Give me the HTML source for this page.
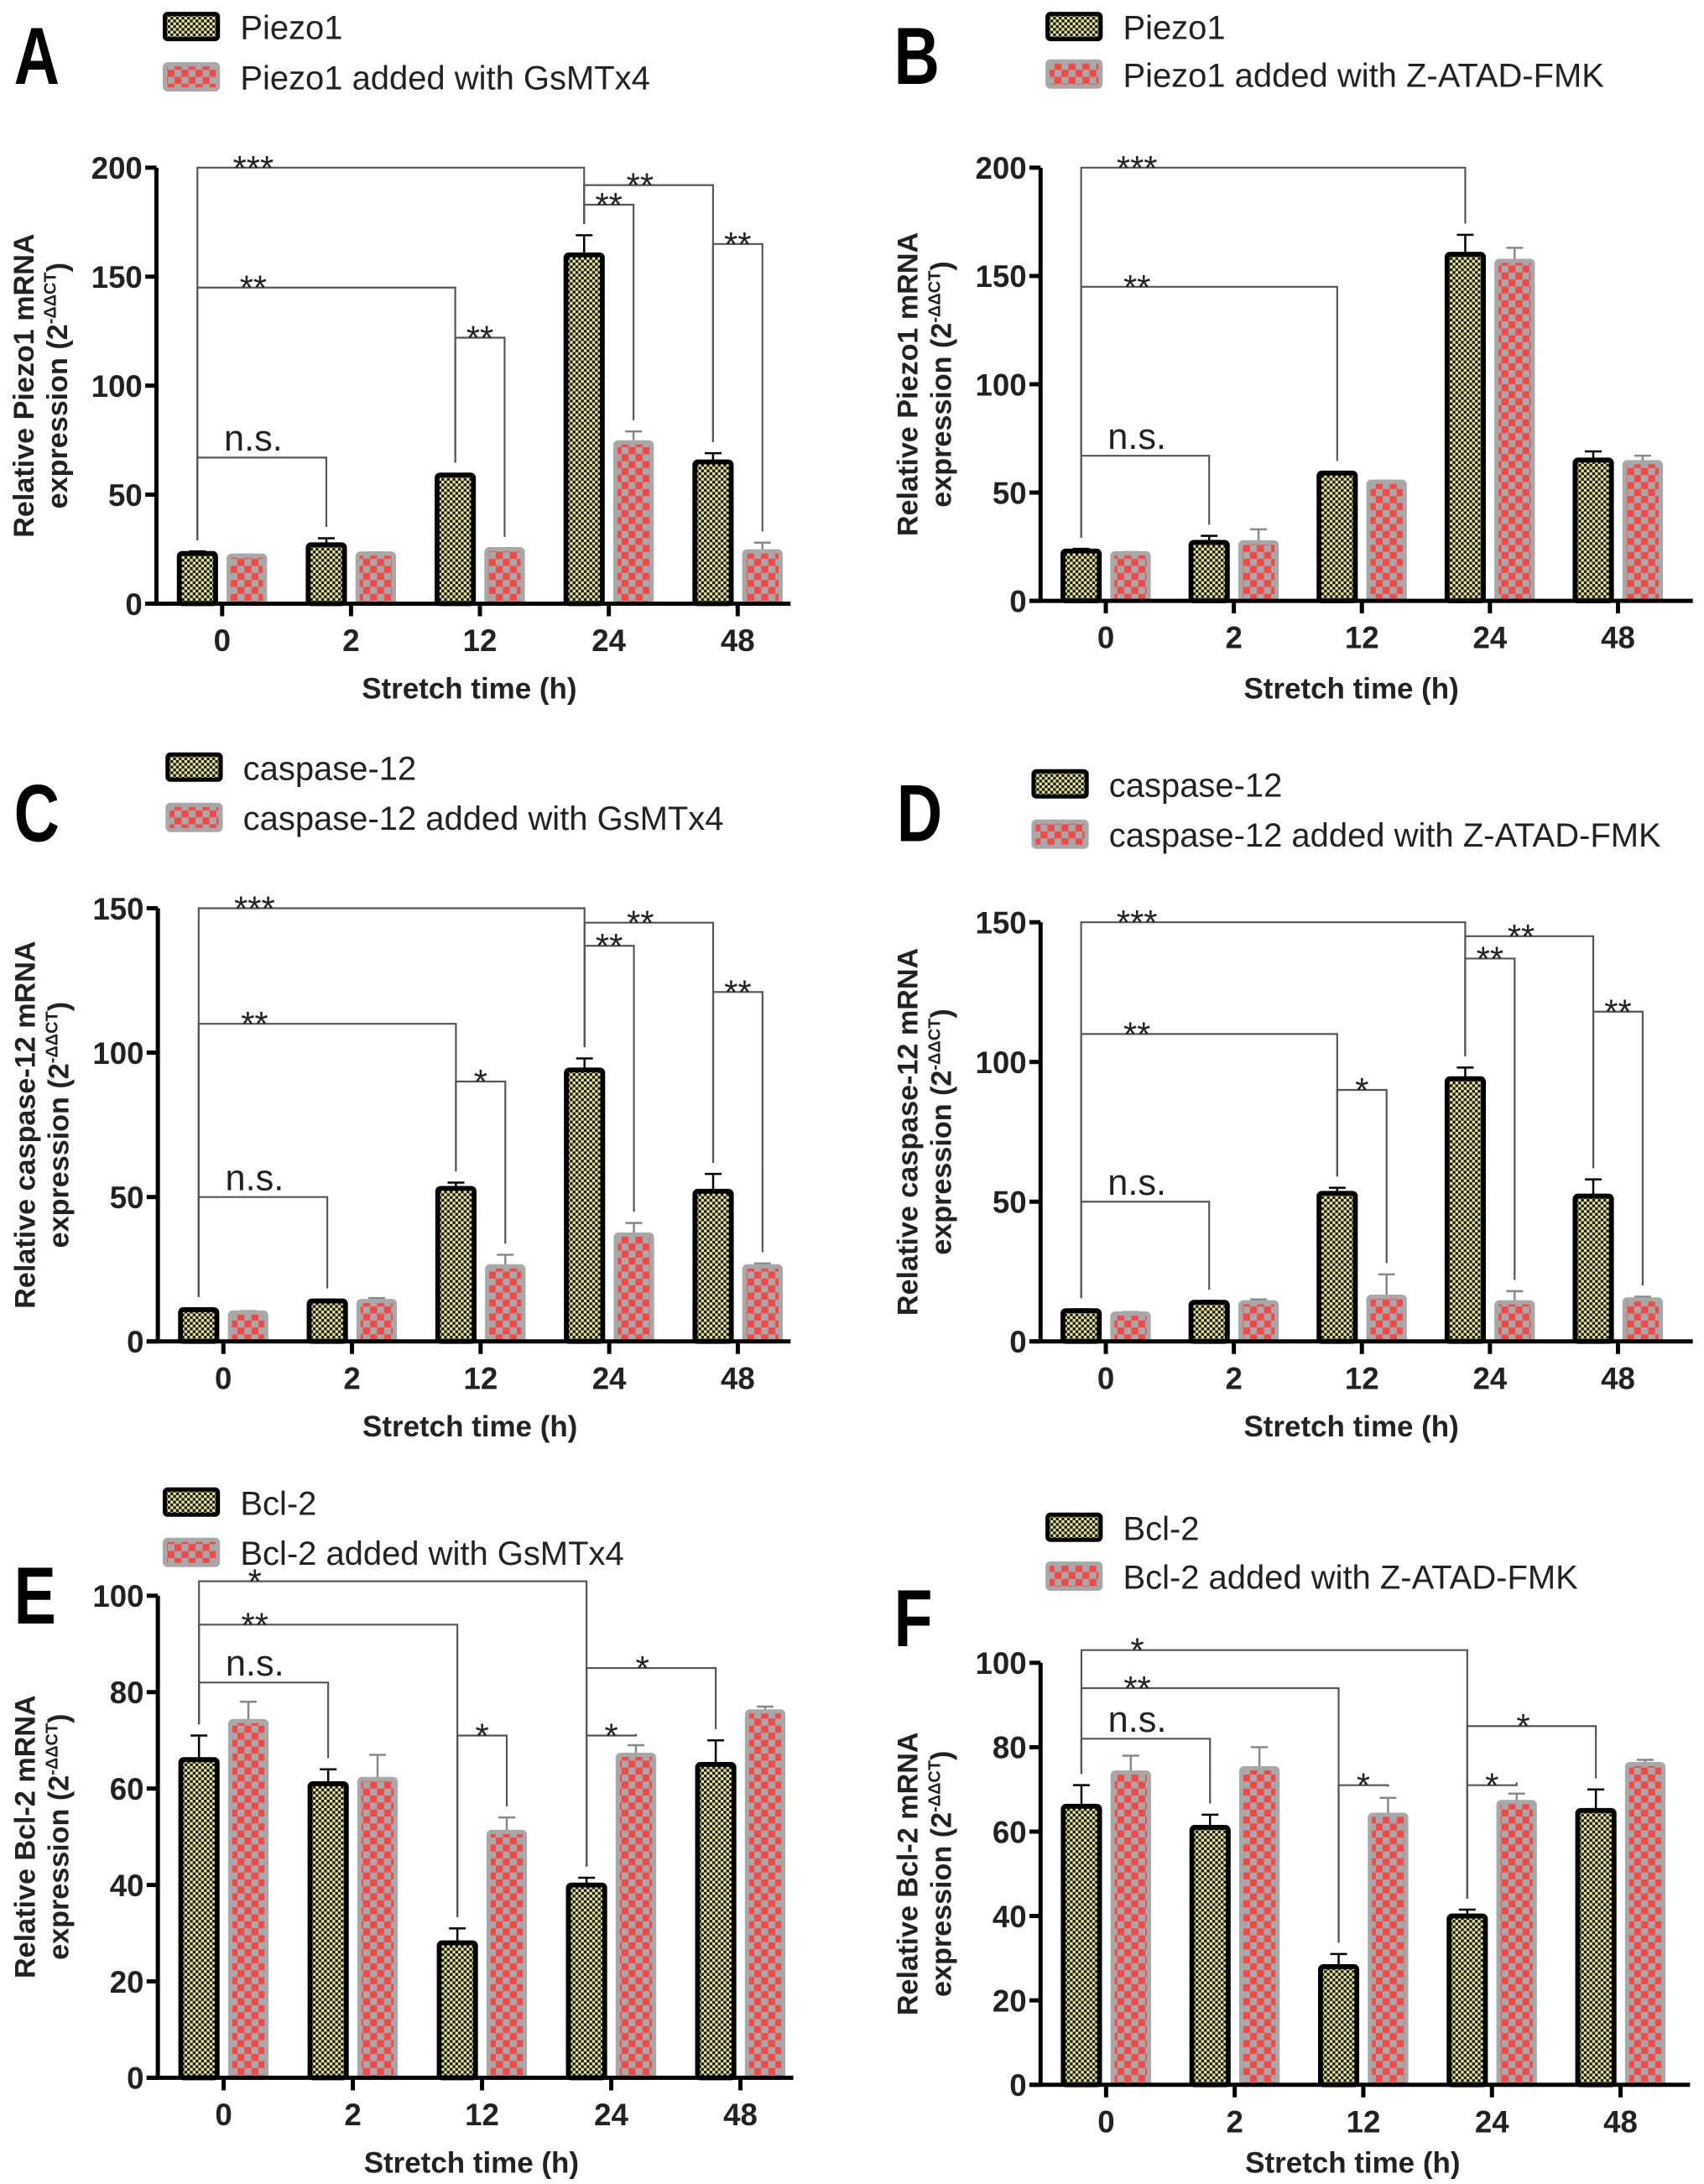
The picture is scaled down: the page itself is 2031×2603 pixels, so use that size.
<!DOCTYPE html>
<html><head><meta charset="utf-8"><style>
html,body{margin:0;padding:0;background:#fff}
svg{display:block}
text{font-family:"Liberation Sans",Arial,sans-serif}
</style></head><body>
<svg id="fig" width="2031" height="2603" viewBox="0 0 1220 1563" preserveAspectRatio="none" xmlns="http://www.w3.org/2000/svg">
<defs>
<pattern id="pk" width="4" height="4" patternUnits="userSpaceOnUse">
<rect width="4" height="4" fill="#1a1a10"/><rect width="2" height="2" fill="#e4e49a"/><rect x="2" y="2" width="2" height="2" fill="#e4e49a"/>
</pattern>
<pattern id="pr" width="10" height="10" patternUnits="userSpaceOnUse">
<rect width="10" height="10" fill="#a8a8a8"/><rect width="5" height="5" fill="#f24848"/><rect x="5" y="5" width="5" height="5" fill="#f24848"/>
</pattern>
</defs>
</svg>
<script>
const categories = ["0","2","12","24","48"];
const piezoBlack = [23,27,59,160,65];
const piezoBlackErr = [1,3,0.5,9,4];
const piezoRedA = [22,23,25,74,24];
const piezoRedAErr = [0.5,0.5,0.5,5,4];
const piezoRedB = [22,27,55,157,64];
const piezoRedBErr = [0.5,6,0.5,6,3];
const caspBlack = [11,14,53,94,52];
const caspBlackErr = [0.5,0.5,2,4,6];
const caspRedC = [10,14,26,37,26];
const caspRedCErr = [0.5,1,4,4,1];
const caspRedD = [10,14,16,14,15];
const caspRedDErr = [0.5,1,8,4,1];
const bclBlack = [66,61,28,40,65];
const bclBlackErr = [5,3,3,1.5,5];
const bclRedE = [74,62,51,67,76];
const bclRedEErr = [4,5,3,2,1];
const bclRedF = [74,75,64,67,76];
const bclRedFErr = [4,5,4,2,1];
const ticksPiezo = [0,50,100,150,200];
const ticksCasp = [0,50,100,150];
const ticksBcl = [0,20,40,60,80,100];
// brackets: [cat1, series1, cat2, series2, value, label]
const sigA = [[0,0,3,0,200,"***"],[3,0,4,0,192,"**"],[3,0,3,1,183,"**"],[4,0,4,1,165,"**"],[0,0,2,0,145,"**"],[2,0,2,1,122,"**"],[0,0,1,0,67,"n.s."]];
const sigB = [[0,0,3,0,200,"***"],[0,0,2,0,145,"**"],[0,0,1,0,67,"n.s."]];
const sigC = [[0,0,3,0,150,"***"],[3,0,4,0,145,"**"],[3,0,3,1,137,"**"],[4,0,4,1,121,"**"],[0,0,2,0,110,"**"],[2,0,2,1,90,"*"],[0,0,1,0,50,"n.s."]];
const sigD = [[0,0,3,0,150,"***"],[3,0,4,0,145,"**"],[3,0,3,1,137,"**"],[4,0,4,1,118,"**"],[0,0,2,0,110,"**"],[2,0,2,1,90,"*"],[0,0,1,0,50,"n.s."]];
const sigE = [[0,0,3,0,103,"*"],[0,0,2,0,94,"**"],[0,0,1,0,82,"n.s."],[2,0,2,1,71,"*"],[3,0,4,0,85,"*"],[3,0,3,1,71,"*"]];
const sigF = sigE;

const NS="http://www.w3.org/2000/svg";
const svg=document.getElementById('fig');
function mk(tag,attrs,parent){const e=document.createElementNS(NS,tag);for(const k in attrs)e.setAttribute(k,attrs[k]);(parent||svg).appendChild(e);return e;}

const panels=[
 {id:'a',letter:'A',lx:10,ly:60,ax:112,axEnd:560,lineEnd:566,yb:432,yt:120,max:200,ticks:ticksPiezo,b:piezoBlack,be:piezoBlackErr,r:piezoRedA,re:piezoRedAErr,sig:sigA,legX:118,legY:[8,44],l1:"Piezo1",l2:"Piezo1 added with  GsMTx4",t1:"Relative Piezo1  mRNA",xt:500},
 {id:'b',letter:'B',lx:640,ly:60,ax:745,axEnd:1190,lineEnd:1212,yb:430,yt:120,max:200,ticks:ticksPiezo,b:piezoBlack,be:piezoBlackErr,r:piezoRedB,re:piezoRedBErr,sig:sigB,legX:750,legY:[8,42],l1:"Piezo1",l2:"Piezo1 added with  Z-ATAD-FMK",t1:"Relative Piezo1  mRNA",xt:500},
 {id:'c',letter:'C',lx:10,ly:602,ax:113,axEnd:560,lineEnd:566,yb:960,yt:650,max:150,ticks:ticksCasp,b:caspBlack,be:caspBlackErr,r:caspRedC,re:caspRedCErr,sig:sigC,legX:120,legY:[538,574],l1:"caspase-12",l2:"caspase-12  added with GsMTx4",t1:"Relative caspase-12  mRNA",xt:1028},
 {id:'d',letter:'D',lx:642,ly:602,ax:745,axEnd:1190,lineEnd:1212,yb:960,yt:660,max:150,ticks:ticksCasp,b:caspBlack,be:caspBlackErr,r:caspRedD,re:caspRedDErr,sig:sigD,legX:740,legY:[550,586],l1:"caspase-12",l2:"caspase-12 added with  Z-ATAD-FMK",t1:"Relative caspase-12 mRNA",xt:1028},
 {id:'e',letter:'E',lx:10,ly:1162,ax:113,axEnd:562,lineEnd:568,yb:1487,yt:1142,max:100,ticks:ticksBcl,b:bclBlack,be:bclBlackErr,r:bclRedE,re:bclRedEErr,sig:sigE,legX:118,legY:[1064,1100],l1:"Bcl-2",l2:"Bcl-2 added with  GsMTx4",t1:"Relative Bcl-2 mRNA",xt:1555},
 {id:'f',letter:'F',lx:640,ly:1178,ax:745,axEnd:1192,lineEnd:1210,yb:1492,yt:1190,max:100,ticks:ticksBcl,b:bclBlack,be:bclBlackErr,r:bclRedF,re:bclRedFErr,sig:sigF,legX:750,legY:[1082,1117],l1:"Bcl-2",l2:"Bcl-2 added with  Z-ATAD-FMK",t1:"Relative Bcl-2 mRNA",xt:1555}
];

panels.forEach(p=>{
 const g=mk('g',{});
 
 
 const span=p.axEnd-p.ax;
 const gx=i=>p.ax+span*(0.105+i*0.206);
 const y=v=>p.yb-(v/p.max)*(p.yb-p.yt);
 const bw=26;
 const bx=(i,s)=>gx(i)+(s===0?-bw*0.68:bw*0.68);
 const L=mk('text',{transform:`translate(${p.lx},${p.ly}) scale(0.78,1)`,'font-size':58,'font-weight':'bold'},g);L.textContent=p.letter;
 
 
 [0,1].forEach(s=>{
  const ly=p.legY[s];
  const sw=mk('rect',{x:p.legX,y:ly+2,width:38,height:18,rx:2,fill:s?'url(#pr)':'url(#pk)',stroke:s?'#a8a8a8':'#000','stroke-width':3},g);
  
  
  const t=mk('text',{x:p.legX+54,y:ly+20,'font-size':24,fill:'#222'},g);t.textContent=s?p.l2:p.l1;
  
  
 });
 [[p.b,p.be],[p.r,p.re]].forEach((sd,s)=>{
  sd[0].forEach((v,i)=>{
   const x=bx(i,s)-bw/2;
   const ty=y(v+sd[1][i]);
   const eb=mk('line',{x1:bx(i,s),x2:bx(i,s),y1:y(v),y2:ty,stroke:s?'#888':'#000','stroke-width':1.5},g);
   
   
   const ec=mk('line',{x1:bx(i,s)-6,x2:bx(i,s)+6,y1:ty,y2:ty,stroke:s?'#888':'#000','stroke-width':1.5},g);
   
   
   const r=mk('rect',{x:x,y:y(v),width:bw,height:p.yb-y(v),rx:2,fill:s?'url(#pr)':'url(#pk)',stroke:s?'#a8a8a8':'#000','stroke-width':s?3:3.5},g);
   
   
  });
 });
 const ya=mk('line',{x1:p.ax,x2:p.ax,y1:p.yt,y2:p.yb,stroke:'#000','stroke-width':3},g);
 
 
 const xa=mk('line',{x1:p.ax-8,x2:p.lineEnd,y1:p.yb,y2:p.yb,stroke:'#000','stroke-width':3},g);
 
 
 p.ticks.forEach(tv=>{
  mk('line',{x1:p.ax-8,x2:p.ax,y1:y(tv),y2:y(tv),stroke:'#000','stroke-width':3},g);
  const t=mk('text',{x:p.ax-10,y:y(tv)+8,'text-anchor':'end','font-size':22,'font-weight':'bold',fill:'#222'},g);t.textContent=tv;
  
  
 });
 categories.forEach((c,i)=>{
  mk('line',{x1:gx(i),x2:gx(i),y1:p.yb,y2:p.yb+9,stroke:'#000','stroke-width':3},g);
  const t=mk('text',{x:gx(i),y:p.yb+34,'text-anchor':'middle','font-size':22,'font-weight':'bold',fill:'#222'},g);t.textContent=c;
  
  
 });
 const xt=mk('text',{x:(p.ax+p.axEnd)/2,y:p.xt,'text-anchor':'middle','font-size':21,'font-weight':'bold',fill:'#222'},g);xt.textContent='Stretch time (h)';
 
 
 const cy=(p.yt+p.yb)/2;
 const yt=mk('text',{transform:`translate(${p.ax-88},${cy}) rotate(-90)`,'text-anchor':'middle','font-size':20.5,'font-weight':'bold',fill:'#222'},g);
 
 
 const t1=mk('tspan',{x:0,dy:0},yt);t1.textContent=p.t1;
 const t2=mk('tspan',{x:0,dy:24},yt);t2.textContent='expression (2';
 const t3=mk('tspan',{dy:-8,'font-size':12},yt);t3.textContent='-ΔΔCT';
 const t4=mk('tspan',{dy:8},yt);t4.textContent=')';
 p.sig.forEach(sg=>{
  const [c1,s1,c2,s2,val,lab]=sg;
  const data=[[p.b,p.be],[p.r,p.re]];
  const x1=bx(c1,s1),x2=bx(c2,s2),ly=y(val);
  const y1=y(data[s1][0][c1]+data[s1][1][c1])-8, y2=y(data[s2][0][c2]+data[s2][1][c2])-8;
  const pl=mk('polyline',{points:`${x1},${y1} ${x1},${ly} ${x2},${ly} ${x2},${y2}`,fill:'none',stroke:'#555','stroke-width':1.3},g);
  
  
  const w=x2-x1;
  const lx=x1+Math.min(40,w/2);
  const t=mk('text',{x:lx,y:ly+(lab==='n.s.'?-5:9),'text-anchor':'middle','font-size':lab==='n.s.'?26:25,fill:'#222'},g);t.textContent=lab;
  
  
 });
});
</script>
</body></html>
